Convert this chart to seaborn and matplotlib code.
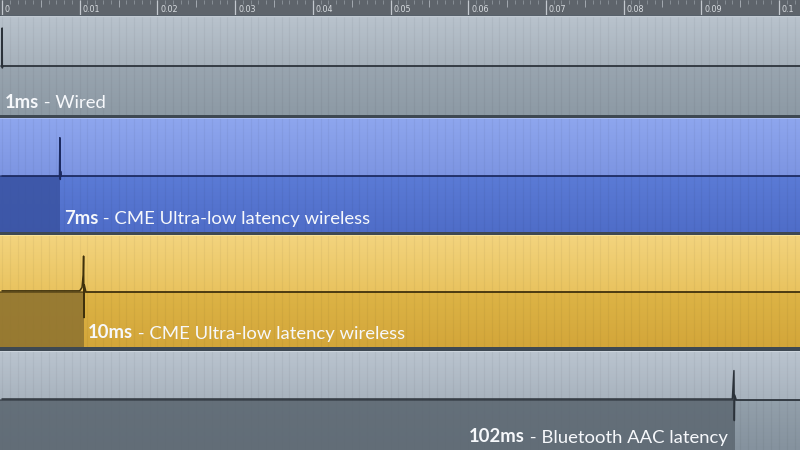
import numpy as np
import pandas as pd
import matplotlib
matplotlib.use("Agg")
import matplotlib.pyplot as plt
from matplotlib.colors import LinearSegmentedColormap
import seaborn as sns

# ── Data ─────────────────────────────────────────────────────────────────────
TICKS       = [0.0, 0.01, 0.02, 0.03, 0.04, 0.05, 0.06, 0.07, 0.08, 0.09, 0.1]
TICK_LABELS = ["0", "0.01", "0.02", "0.03", "0.04", "0.05",
               "0.06", "0.07", "0.08", "0.09", "0.1"]

LATENCY_MS  = ["1ms", "7ms", "10ms", "102ms"]
CAPTIONS    = [" - Wired",
               " - CME Ultra-low latency wireless",
               " - CME Ultra-low latency wireless",
               " - Bluetooth AAC latency"]
# spike onset as it sits on the ruler (seconds)
ONSET       = [0.0, 0.00747, 0.01055, 0.0943]

# waveform samples per track (time in s, normalised amplitude)
WIRED_T = [0.0, 0.00002, 0.00004, 0.0001, 0.103]
WIRED_A = [0.0, 0.76, -0.04, 0.0, 0.0]
CME7_T  = [0.0, 0.0074, 0.00745, 0.0075, 0.00755, 0.0076, 0.103]
CME7_A  = [0.0, 0.0, 0.66, -0.06, 0.08, 0.0, 0.0]
CME10_T = [0.0, 0.0100, 0.0103, 0.01045, 0.0105, 0.01055, 0.0106, 0.0108, 0.103]
CME10_A = [0.02, 0.02, 0.08, 0.3, 0.63, -0.45, 0.12, 0.0, 0.0]
BT_T    = [0.0, 0.0940, 0.0942, 0.09425, 0.0943, 0.0945, 0.103]
BT_A    = [0.02, 0.02, 0.6, -0.42, 0.1, 0.0, 0.0]

WAVES = [(WIRED_T, WIRED_A), (CME7_T, CME7_A), (CME10_T, CME10_A), (BT_T, BT_A)]

# ── Layout / style (pixels of an 800x450 canvas) ─────────────────────────────
W, H = 800, 450
X0_PX, PX_PER_S = 2, 7770
XLIM = (-X0_PX / PX_PER_S, (W - X0_PX) / PX_PER_S)

# (top, centre, bottom) of each track in pixels, label baseline gap from bottom
TRACK_PX = [(16, 66, 115), (118, 176, 232), (235, 292, 347), (351, 400, 450)]
LABEL_GAP = [6.5, 8.5, 8.5, 7.5]

STYLE = [
    dict(top=("#b9c3cd", "#a6b1bb"), bot=("#99a5b0", "#8d9aa5"),
         shade=None, line="#2b323a", edge="#cfd7df"),
    dict(top=("#8ea6ee", "#7d95e2"), bot=("#5b7bd6", "#4f6dc8"),
         shade="#3a53a2", line="#1c2a60", edge="#aebff5"),
    dict(top=("#f3d47e", "#e9c35f"), bot=("#ddb446", "#d3a63a"),
         shade="#8d7230", line="#3e300c", edge="#f9e6a2"),
    dict(top=("#bac4cf", "#a8b3be"), bot=("#93a0ab", "#85929e"),
         shade="#5c6771", line="#2b323a", edge="#d0d8e0"),
]

sns.set_theme(style="white")
plt.rcParams["font.family"] = ["Lato", "DejaVu Sans"]

fig = plt.figure(figsize=(W / 100, H / 100), dpi=100, facecolor="#3e4852")


def px_axes(top, bottom):
    return fig.add_axes([0, 1 - bottom / H, 1, (bottom - top) / H])


def gradient(ax, c1, c2, y0, y1):
    cmap = LinearSegmentedColormap.from_list("g", [c2, c1])
    grad = np.linspace(0, 1, 64).reshape(-1, 1)
    ax.imshow(grad, extent=(XLIM[0], XLIM[1], y0, y1), origin="lower",
              aspect="auto", cmap=cmap, zorder=0, interpolation="bilinear")


# ── Ruler ────────────────────────────────────────────────────────────────────
rul = px_axes(0, 15)
rul.set_facecolor("#5e646b")
rul.set_xlim(XLIM)
rul.set_ylim(0, 15)
minor = np.arange(0, 0.1031, 0.001)
half = np.arange(0.005, 0.1031, 0.01)
rul.vlines(minor, 11, 15, color="#8d949b", lw=0.6)
rul.vlines(half, 8.5, 15, color="#a2a8af", lw=0.7)
rul.vlines(TICKS, 0, 15, color="#c3c8ce", lw=0.9)
for t, lab in zip(TICKS, TICK_LABELS):
    rul.text(t + 3 / PX_PER_S, 5.3, lab, color="#d8dce0", fontsize=5.8,
             va="center", ha="left", family=["DejaVu Sans"])
rul.set_xticks([]); rul.set_yticks([])
for s in rul.spines.values():
    s.set_visible(False)
fig.add_artist(plt.Line2D([0, 1], [1 - 15.5 / H] * 2, color="#c2cad2", lw=1))

# ── Tracks ───────────────────────────────────────────────────────────────────
grid_x = np.arange(0, 0.1031, 0.001)
for i, ((top, mid, bot), st, (wt, wa)) in enumerate(zip(TRACK_PX, STYLE, WAVES)):
    ax = px_axes(top, bot)
    ylo = -(bot - mid) / (mid - top)
    ax.set_xlim(XLIM)
    ax.set_ylim(ylo, 1)

    gradient(ax, st["top"][0], st["top"][1], 0, 1)
    gradient(ax, st["bot"][0], st["bot"][1], ylo, 0)
    ax.vlines(grid_x, ylo, 1, color="#000000", alpha=0.04, lw=0.8, zorder=1)

    if st["shade"] is not None:
        ax.fill_between([XLIM[0], ONSET[i]], ylo, 0, color=st["shade"],
                        alpha=0.85, lw=0, zorder=2)

    ax.axhline(0, color=st["line"], lw=1.4, alpha=0.55, zorder=3)
    wave = pd.DataFrame({"t": wt, "amp": wa})
    sns.lineplot(data=wave, x="t", y="amp", ax=ax, color=st["line"],
                 lw=1.1, zorder=4, estimator=None, sort=False)
    ax.axhline(1, color=st["edge"], lw=1.2, zorder=5)

    # label: bold latency + regular caption
    base_y = ylo + LABEL_GAP[i] / (mid - top)
    label_kw = dict(color="#f6f8fb", fontsize=13.3)
    if i < 3:
        x_lab = ONSET[i] + (4 if i else 3) / PX_PER_S
        t1 = ax.text(x_lab, base_y, LATENCY_MS[i], ha="left", va="baseline",
                     fontweight="bold", zorder=6, **label_kw)
        ax.annotate(CAPTIONS[i], xy=(1, 0), xycoords=t1, ha="left",
                    va="bottom", zorder=6, **label_kw)
    else:
        x_lab = ONSET[i] - 7 / PX_PER_S
        t2 = ax.text(x_lab, base_y, CAPTIONS[i], ha="right", va="baseline",
                     zorder=6, **label_kw)
        ax.annotate(LATENCY_MS[i], xy=(0, 0), xycoords=t2, ha="right",
                    va="bottom", fontweight="bold", zorder=6, **label_kw)

    ax.set_xlabel(""); ax.set_ylabel("")
    ax.set_xticks([]); ax.set_yticks([])
    for s in ax.spines.values():
        s.set_visible(False)

fig.savefig("out.png", dpi=100, facecolor=fig.get_facecolor())
